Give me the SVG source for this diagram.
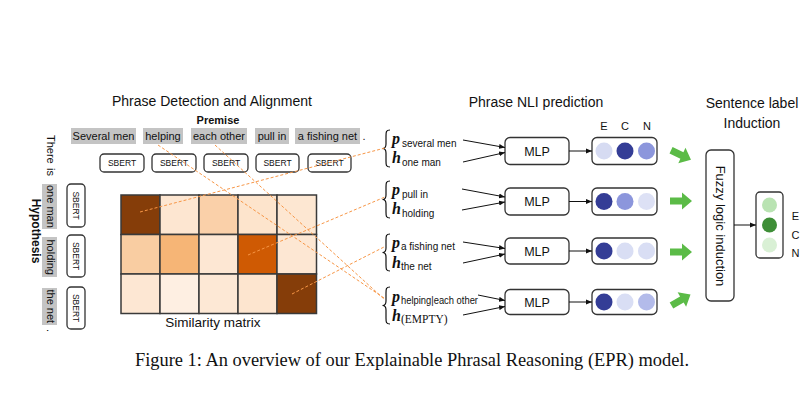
<svg xmlns="http://www.w3.org/2000/svg" width="812" height="409" viewBox="0 0 812 409">
<style>
text{font-family:"Liberation Sans",Arial,sans-serif;fill:#111}
.title{font-size:14px;text-anchor:middle}
.w{font-size:11px;text-anchor:middle}
.bg{fill:#c4c4c4}
.box{fill:#fff;stroke:#333;stroke-width:1.3}
.sb{font-size:8.5px;text-anchor:middle}
.cell{stroke:#3a3a3a;stroke-width:1.5}
.dash{stroke:#f79646;stroke-width:1;stroke-dasharray:3 2;fill:none}
.arr{stroke:#111;stroke-width:1;fill:none;marker-end:url(#ah)}
.pv{font-family:"Liberation Serif","Times New Roman",serif;font-weight:bold;font-style:italic;font-size:16px}
.sub{font-size:10px}
.brace{fill:none;stroke:#111;stroke-width:1.2}
.mlp{font-size:12.5px;text-anchor:middle}
.lbl{font-size:11px;text-anchor:middle}
.g{fill:#5bbb47}
</style>
<defs>
<marker id="ah" viewBox="0 0 6 6" refX="6" refY="3" markerWidth="6" markerHeight="6" markerUnits="userSpaceOnUse" orient="auto">
<path d="M0,0.5 L6,3 L0,5.5 Z" fill="#111"/>
</marker>
<polygon id="garrow" points="-11,-3.6 1,-3.6 1,-8.5 11,0 1,8.5 1,3.6 -11,3.6"/>
<path id="brc" d="M7,0 C3,0 3,2 3,6 L3,14 C3,17 2,18.5 -0.5,18.5 C2,18.5 3,20 3,23 L3,31 C3,35 3,37 7,37"/>
</defs>

<g id="titles">
<text class="title" x="212" y="106">Phrase Detection and Alignment</text>
<text class="title" x="536" y="107">Phrase NLI prediction</text>
<text class="title" x="752" y="108">Sentence label</text>
<text class="title" x="752" y="128">Induction</text>
</g>

<g id="premise">
<text x="218" y="124" style="font-size:11px;font-weight:bold;text-anchor:middle">Premise</text>
<rect class="bg" x="71" y="128" width="65" height="16"/>
<rect class="bg" x="143" y="128" width="40" height="16"/>
<rect class="bg" x="191" y="128" width="56" height="16"/>
<rect class="bg" x="255" y="128" width="34" height="16"/>
<rect class="bg" x="295" y="128" width="65" height="16"/>
<text class="w" x="103.5" y="140">Several men</text>
<text class="w" x="163" y="140">helping</text>
<text class="w" x="219" y="140">each other</text>
<text class="w" x="272" y="140">pull in</text>
<text class="w" x="327.5" y="140">a fishing net</text>
<text class="w" x="364" y="140">.</text>
</g>

<g id="premise-sbert">
<rect class="box" x="100" y="154" width="44" height="18" rx="4"/>
<rect class="box" x="152" y="154" width="44" height="18" rx="4"/>
<rect class="box" x="204" y="154" width="44" height="18" rx="4"/>
<rect class="box" x="256" y="154" width="43" height="18" rx="4"/>
<rect class="box" x="308" y="154" width="43" height="18" rx="4"/>
<text class="sb" x="122" y="166">SBERT</text>
<text class="sb" x="174" y="166">SBERT</text>
<text class="sb" x="226" y="166">SBERT</text>
<text class="sb" x="277.5" y="166">SBERT</text>
<text class="sb" x="329.5" y="166">SBERT</text>
</g>

<g id="hypothesis">
<text transform="translate(31.5,231) rotate(90)" style="font-size:12px;font-weight:bold;text-anchor:middle">Hypothesis</text>
<rect class="bg" x="42" y="184" width="15" height="45"/>
<rect class="bg" x="42" y="237" width="15" height="40"/>
<rect class="bg" x="42" y="288" width="15" height="37"/>
<text transform="translate(46.5,135) rotate(90)" style="font-size:11px">There</text>
<text transform="translate(46.5,168) rotate(90)" style="font-size:11px">is</text>
<text transform="translate(46.5,185) rotate(90)" style="font-size:11px">one man</text>
<text transform="translate(46.5,239.5) rotate(90)" style="font-size:11px">holding</text>
<text transform="translate(46.5,289.5) rotate(90)" style="font-size:11px">the net</text>
<text transform="translate(46.5,329) rotate(90)" style="font-size:11px">.</text>
</g>

<g id="hypothesis-sbert">
<rect class="box" x="67" y="184" width="18" height="43" rx="4"/>
<rect class="box" x="67" y="235" width="18" height="42" rx="4"/>
<rect class="box" x="67" y="287" width="18" height="42" rx="4"/>
<text class="sb" transform="translate(73,205.5) rotate(90)">SBERT</text>
<text class="sb" transform="translate(73,256) rotate(90)">SBERT</text>
<text class="sb" transform="translate(73,308) rotate(90)">SBERT</text>
</g>

<g id="similarity-matrix">
<rect class="cell" x="121" y="195" width="39" height="39.5" fill="#853d09"/>
<rect class="cell" x="160" y="195" width="39" height="39.5" fill="#fde6d1"/>
<rect class="cell" x="199" y="195" width="39" height="39.5" fill="#fad0a9"/>
<rect class="cell" x="238" y="195" width="39" height="39.5" fill="#fde4cc"/>
<rect class="cell" x="277" y="195" width="39.5" height="39.5" fill="#fde7d2"/>
<rect class="cell" x="121" y="234.5" width="39" height="39.5" fill="#f9cda2"/>
<rect class="cell" x="160" y="234.5" width="39" height="39.5" fill="#f6b576"/>
<rect class="cell" x="199" y="234.5" width="39" height="39.5" fill="#fde7d3"/>
<rect class="cell" x="238" y="234.5" width="39" height="39.5" fill="#cf5a03"/>
<rect class="cell" x="277" y="234.5" width="39.5" height="39.5" fill="#fde7d3"/>
<rect class="cell" x="121" y="274" width="39" height="39.5" fill="#fde7d3"/>
<rect class="cell" x="160" y="274" width="39" height="39.5" fill="#feefe2"/>
<rect class="cell" x="199" y="274" width="39" height="39.5" fill="#fde8d5"/>
<rect class="cell" x="238" y="274" width="39" height="39.5" fill="#fde5cf"/>
<rect class="cell" x="277" y="274" width="39.5" height="39.5" fill="#853d09"/>
<text x="213" y="327" style="font-size:13.5px;text-anchor:middle">Similarity matrix</text>
</g>

<g id="pair1">
<use href="#brc" class="brace" transform="translate(383,130)"/>
<text class="pv" x="392" y="144">p</text><text class="sub" x="402" y="147">several men</text>
<text class="pv" x="392" y="163">h</text><text class="sub" x="402" y="166">one man</text>
</g>
<g id="pair2">
<use href="#brc" class="brace" transform="translate(383,181)"/>
<text class="pv" x="392" y="195">p</text><text class="sub" x="402" y="198">pull in</text>
<text class="pv" x="392" y="214">h</text><text class="sub" x="402" y="217">holding</text>
</g>
<g id="pair3">
<use href="#brc" class="brace" transform="translate(383,234)"/>
<text class="pv" x="392" y="248">p</text><text class="sub" x="401" y="250">a fishing net</text>
<text class="pv" x="392" y="268">h</text><text class="sub" x="401" y="270">the net</text>
</g>
<g id="pair4">
<use href="#brc" class="brace" transform="translate(383,287)"/>
<text class="pv" x="392" y="302">p</text><text class="sub" x="401" y="304" textLength="77" lengthAdjust="spacingAndGlyphs">helping|each other</text>
<text class="pv" x="392" y="321">h</text><text x="401" y="323" style="font-family:'Liberation Serif','Times New Roman',serif;font-size:11.5px">(EMPTY)</text>
</g>

<g id="mlp1"><rect class="box" x="505" y="137.5" width="64" height="27" rx="5"/><text class="mlp" x="537" y="155.5">MLP</text></g>
<g id="mlp2"><rect class="box" x="505" y="188" width="64" height="27" rx="5"/><text class="mlp" x="537" y="206">MLP</text></g>
<g id="mlp3"><rect class="box" x="505" y="238" width="64" height="26" rx="5"/><text class="mlp" x="537" y="255.5">MLP</text></g>
<g id="mlp4"><rect class="box" x="505" y="289.5" width="64" height="25" rx="5"/><text class="mlp" x="537" y="306.5">MLP</text></g>

<g id="ecn-labels">
<text class="lbl" x="604" y="130">E</text>
<text class="lbl" x="625" y="130">C</text>
<text class="lbl" x="647" y="130">N</text>
</g>

<g id="pred1">
<rect class="box" x="592" y="137.5" width="65" height="27" rx="5"/>
<circle cx="604" cy="151" r="8.5" fill="#d6dbf2"/><circle cx="625" cy="151" r="8.5" fill="#343d96"/><circle cx="646.5" cy="151" r="8.5" fill="#8c96dc"/>
</g>
<g id="pred2">
<rect class="box" x="592" y="188" width="65" height="27" rx="5"/>
<circle cx="604" cy="201.5" r="8.5" fill="#343d96"/><circle cx="625" cy="201.5" r="8.5" fill="#8c96dc"/><circle cx="646.5" cy="201.5" r="8.5" fill="#dde1f5"/>
</g>
<g id="pred3">
<rect class="box" x="592" y="238" width="65" height="26" rx="5"/>
<circle cx="604" cy="251" r="8.5" fill="#343d96"/><circle cx="625" cy="251" r="8.5" fill="#d9def4"/><circle cx="646.5" cy="251" r="8.5" fill="#d9def4"/>
</g>
<g id="pred4">
<rect class="box" x="592" y="289.5" width="65" height="25" rx="5"/>
<circle cx="604" cy="302" r="8.5" fill="#343d96"/><circle cx="625" cy="302" r="8.5" fill="#d9def4"/><circle cx="646.5" cy="302" r="8.5" fill="#b3bbea"/>
</g>

<g id="fuzzy-logic">
<rect class="box" x="706" y="150" width="28" height="151" rx="5"/>
<text transform="translate(715.5,226) rotate(90)" style="font-size:13px;text-anchor:middle">Fuzzy logic induction</text>
</g>

<g id="sentence-label">
<rect class="box" x="756" y="192" width="27" height="66" rx="4"/>
<circle cx="769.5" cy="205" r="7.5" fill="#b9e3b2"/>
<circle cx="769.5" cy="225" r="7.5" fill="#3e8e37"/>
<circle cx="769.5" cy="245" r="7.5" fill="#d9f0d5"/>
<text class="lbl" x="795.5" y="220">E</text>
<text class="lbl" x="795.5" y="238.5">C</text>
<text class="lbl" x="795.5" y="257">N</text>
</g>

<g id="connectors">
<line class="dash" x1="140" y1="212" x2="385" y2="148"/>
<line class="dash" x1="248" y1="255" x2="385" y2="197"/>
<line class="dash" x1="292" y1="294" x2="384" y2="247"/>
<line class="dash" x1="158" y1="145" x2="384" y2="298"/>
<line class="dash" x1="215" y1="145" x2="384" y2="299"/>
<line class="arr" x1="463" y1="140" x2="505" y2="147.5"/>
<line class="arr" x1="463" y1="162" x2="505" y2="152.5"/>
<line class="arr" x1="462" y1="189" x2="505" y2="197"/>
<line class="arr" x1="462" y1="210" x2="505" y2="202"/>
<line class="arr" x1="463" y1="242" x2="505" y2="248.5"/>
<line class="arr" x1="463" y1="263" x2="505" y2="254"/>
<line class="arr" x1="478" y1="295" x2="505" y2="300.5"/>
<line class="arr" x1="463" y1="315" x2="505" y2="306.5"/>
<line class="arr" x1="569" y1="151" x2="592" y2="151"/>
<line class="arr" x1="569" y1="201.5" x2="592" y2="201.5"/>
<line class="arr" x1="569" y1="251" x2="592" y2="251"/>
<line class="arr" x1="569" y1="302" x2="592" y2="302"/>
<line class="arr" x1="734" y1="225" x2="756" y2="225"/>
<use href="#garrow" class="g" transform="translate(681,155) rotate(25)"/>
<use href="#garrow" class="g" transform="translate(681,201)"/>
<use href="#garrow" class="g" transform="translate(681,252)"/>
<use href="#garrow" class="g" transform="translate(681,300) rotate(-30)"/>
</g>

<g id="caption">
<text x="135" y="366" textLength="554" lengthAdjust="spacingAndGlyphs" style="font-family:'Liberation Serif','Times New Roman',serif;font-size:18.3px">Figure 1: An overview of our Explainable Phrasal Reasoning (EPR) model.</text>
</g>
</svg>
